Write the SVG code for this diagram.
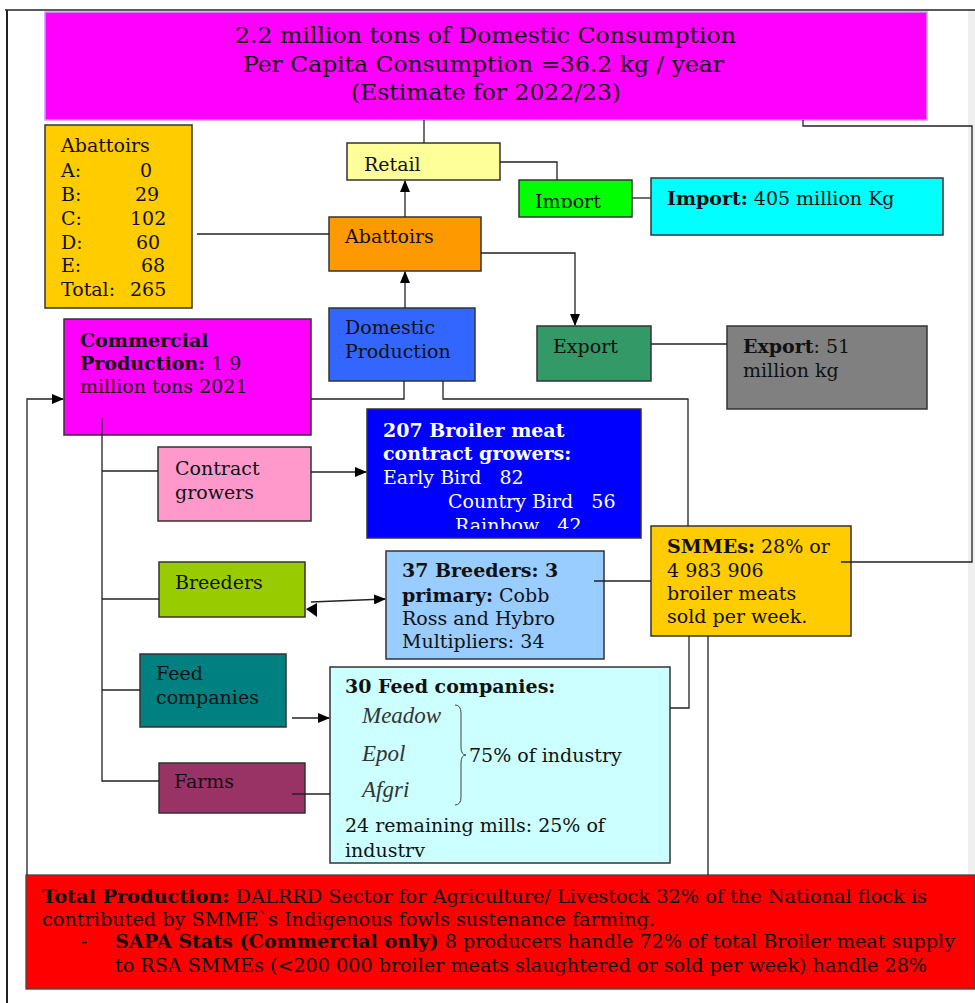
<svg xmlns="http://www.w3.org/2000/svg" width="975" height="1003" viewBox="0 0 975 1003">
<style>
text{font-family:"DejaVu Serif","Liberation Serif",serif;font-size:19px;fill:#111}
.b{font-weight:bold}
.box{stroke:#333;stroke-width:1.5}
.ln{fill:none;stroke:#222;stroke-width:1.3}
.w{fill:#fff}
.it{font-family:"Liberation Serif",serif;font-style:italic;font-size:23px;fill:#333}
.big{font-size:22px}
.red{font-size:18.5px}
</style>
<defs>
<marker id="ah" markerWidth="12" markerHeight="10" refX="11" refY="5" orient="auto" markerUnits="userSpaceOnUse"><path d="M0,0 L12,5 L0,10 z" fill="#000"/></marker>
<clipPath id="cImp"><rect x="519" y="180" width="114" height="28"/></clipPath>
<clipPath id="cRain"><rect x="367" y="409" width="274" height="120"/></clipPath>
<clipPath id="cInd"><rect x="330" y="667" width="340" height="190"/></clipPath>
</defs>
<rect x="0" y="0" width="975" height="1003" fill="#fff"/>
<g id="frame">
<rect x="968" y="10" width="7" height="865" fill="#efefef"/>
<line x1="5" y1="10" x2="975" y2="10" stroke="#222" stroke-width="1.5"/>
<line x1="7" y1="10" x2="7" y2="1003" stroke="#222" stroke-width="2"/>
</g>
<g id="n-top"><rect x="45" y="12" width="882" height="108" fill="#FF00FF" stroke="#CC99FF" stroke-width="1.5"/>
<text class="big" x="235" y="43" textLength="501" lengthAdjust="spacingAndGlyphs">2.2 million tons of Domestic Consumption</text>
<text class="big" x="243" y="72" textLength="481" lengthAdjust="spacingAndGlyphs">Per Capita Consumption =36.2 kg / year</text>
<text class="big" x="351" y="100" textLength="270" lengthAdjust="spacingAndGlyphs">(Estimate for 2022/23)</text></g>
<g id="n-ablist"><rect class="box" x="45" y="125" width="147" height="183" fill="#FFCC00"/>
<text x="61" y="152">Abattoirs</text>
<text x="61" y="177">A:</text><text x="140" y="177">0</text>
<text x="61" y="201">B:</text><text x="135" y="201">29</text>
<text x="61" y="225">C:</text><text x="130" y="225">102</text>
<text x="61" y="249">D:</text><text x="136" y="249">60</text>
<text x="61" y="272">E:</text><text x="141" y="272">68</text>
<text x="61" y="296">Total:</text><text x="130" y="296">265</text></g>
<g id="n-retail"><rect class="box" x="347" y="143" width="153" height="37" fill="#FFFF99"/><text x="364" y="171">Retail</text></g>
<g id="n-import"><rect class="box" x="519" y="180" width="113" height="37" fill="#00FF00"/><text x="535" y="208" clip-path="url(#cImp)">Import</text></g>
<g id="n-importinfo"><rect class="box" x="651" y="178" width="292" height="57" fill="#00FFFF"/><text x="667" y="205"><tspan class="b">Import:</tspan> 405 million Kg</text></g>
<g id="n-abattoirs"><rect class="box" x="329" y="217" width="152" height="54" fill="#FF9900"/><text x="345" y="243">Abattoirs</text></g>
<g id="n-domestic"><rect class="box" x="329" y="308" width="146" height="73" fill="#3366FF"/><text x="345" y="334">Domestic</text><text x="345" y="358">Production</text></g>
<g id="n-export"><rect class="box" x="537" y="326" width="114" height="55" fill="#339966"/><text x="553" y="353">Export</text></g>
<g id="n-exportinfo"><rect class="box" x="727" y="326" width="200" height="83" fill="#808080"/><text x="743" y="353"><tspan class="b">Export</tspan>: 51</text><text x="743" y="377">million kg</text></g>
<g id="n-commercial"><rect class="box" x="64" y="319" width="247" height="116" fill="#FF00FF"/>
<text x="80" y="347" class="b">Commercial</text>
<text x="80" y="370"><tspan class="b">Production:</tspan> 1 9</text>
<text x="80" y="393">million tons 2021</text></g>
<g id="n-contract"><rect class="box" x="158" y="447" width="153" height="74" fill="#FF99CC"/><text x="175" y="475">Contract</text><text x="175" y="499">growers</text></g>
<g id="n-broiler"><rect class="box" x="367" y="409" width="274" height="129" fill="#0000FF"/>
<text x="383" y="437" class="b w">207 Broiler meat</text>
<text x="383" y="460" class="b w">contract growers:</text>
<text x="383" y="484" class="w" xml:space="preserve">Early Bird   82</text>
<text x="448" y="508" class="w" xml:space="preserve">Country Bird   56</text>
<text x="455" y="532" class="w" xml:space="preserve" clip-path="url(#cRain)">Rainbow   42</text></g>
<g id="n-breeders"><rect class="box" x="159" y="562" width="146" height="55" fill="#99CC00"/><text x="175" y="589">Breeders</text></g>
<g id="n-breeders37"><rect class="box" x="386" y="551" width="218" height="108" fill="#99CCFF"/>
<text x="402" y="577" class="b">37 Breeders: 3</text>
<text x="402" y="602"><tspan class="b">primary:</tspan> Cobb</text>
<text x="402" y="625">Ross and Hybro</text>
<text x="402" y="648">Multipliers: 34</text></g>
<g id="n-smmes"><rect class="box" x="651" y="526" width="200" height="110" fill="#FFCC00"/>
<text x="667" y="553"><tspan class="b">SMMEs:</tspan> 28% or</text>
<text x="667" y="577">4 983 906</text>
<text x="667" y="600">broiler meats</text>
<text x="667" y="623">sold per week.</text></g>
<g id="n-feed"><rect class="box" x="140" y="654" width="146" height="73" fill="#008080"/><text x="156" y="680">Feed</text><text x="156" y="704">companies</text></g>
<g id="n-feed30"><rect class="box" x="330" y="667" width="340" height="196" fill="#CCFFFF"/>
<text x="345" y="693" class="b">30 Feed companies:</text>
<text x="362" y="723" class="it">Meadow</text>
<text x="362" y="761" class="it">Epol</text>
<text x="362" y="797" class="it">Afgri</text>
<path d="M455,705 q6,0 6,8 v34 q0,8 5,8 q-5,0 -5,8 v34 q0,8 -6,8" fill="none" stroke="#444" stroke-width="1"/>
<text x="469" y="762">75% of industry</text>
<text x="345" y="832">24 remaining mills: 25% of</text>
<text x="345" y="857" clip-path="url(#cInd)">industry</text></g>
<g id="n-farms"><rect class="box" x="159" y="763" width="146" height="50" fill="#993366"/><text x="174" y="788">Farms</text></g>
<g id="n-total"><rect x="26" y="875" width="949" height="114" fill="#FF0000" stroke="#444" stroke-width="1.3"/>
<text class="red" x="42" y="903" textLength="885" lengthAdjust="spacingAndGlyphs"><tspan class="b">Total Production:</tspan> DALRRD Sector for Agriculture/ Livestock 32% of the National flock is</text>
<text class="red" x="42" y="926" textLength="613" lengthAdjust="spacingAndGlyphs">contributed by SMME`s Indigenous fowls sustenance farming.</text>
<text class="red" x="81" y="948">-</text>
<text class="red" x="115" y="948" textLength="840" lengthAdjust="spacingAndGlyphs"><tspan class="b">SAPA Stats (Commercial only)</tspan> 8 producers handle 72% of total Broiler meat supply</text>
<text class="red" x="115" y="972" textLength="812" lengthAdjust="spacingAndGlyphs">to RSA SMMEs (&lt;200 000 broiler meats slaughtered or sold per week) handle 28%</text></g>
<g id="connectors">
<path class="ln" d="M424,120 V143"/>
<path class="ln" d="M803,120 V126 H972 V562 H841"/>
<path class="ln" d="M500,162 H557 V180"/>
<path class="ln" d="M632,198 H651"/>
<path class="ln" d="M197,234 H329"/>
<path class="ln" d="M405,217 V181" marker-end="url(#ah)"/>
<path class="ln" d="M481,253 H575 V325" marker-end="url(#ah)"/>
<path class="ln" d="M651,344 H727"/>
<path class="ln" d="M405,308 V272" marker-end="url(#ah)"/>
<path class="ln" d="M311,399 H404 V381"/>
<path class="ln" d="M443,381 V399 H688 V526"/>
<path class="ln" d="M27,875 V399 H63" marker-end="url(#ah)"/>
<path class="ln" d="M102,418 V781 H159"/>
<path class="ln" d="M102,471 H158"/>
<path class="ln" d="M102,599 H159"/>
<path class="ln" d="M102,690 H140"/>
<path class="ln" d="M311,472 H366" marker-end="url(#ah)"/>
<path class="ln" d="M311,602 L385,599" marker-end="url(#ah)"/>
<polygon points="306,609 317,603 317,617" fill="#000"/>
<path class="ln" d="M594,581 H651"/>
<path class="ln" d="M292,718 H329" marker-end="url(#ah)"/>
<path class="ln" d="M292,794 H330"/>
<path class="ln" d="M670,708 H689 V636"/>
<path class="ln" d="M708,636 V875"/>
</g>
</svg>
